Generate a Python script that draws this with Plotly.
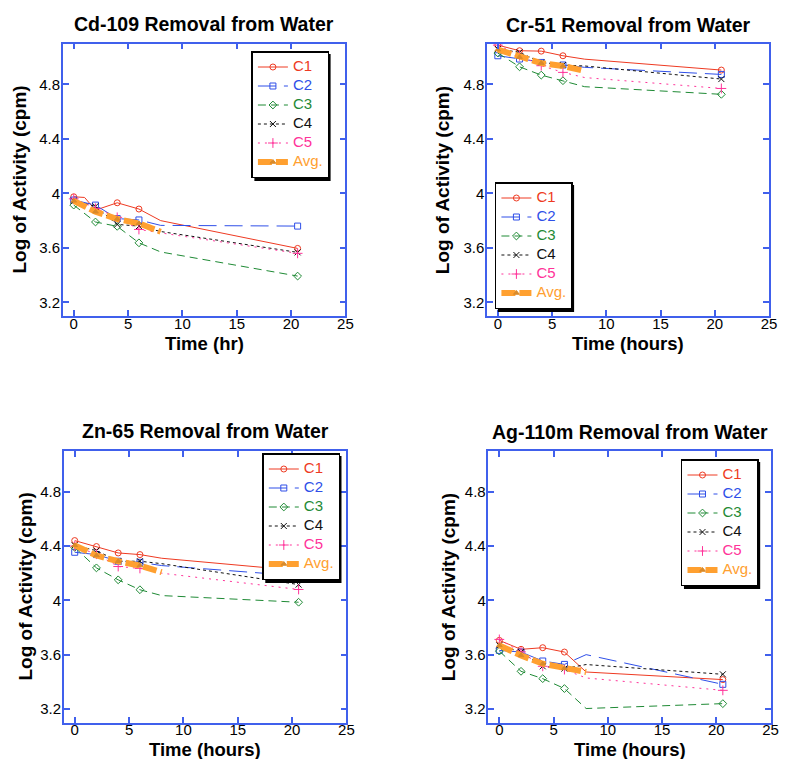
import plotly.graph_objects as go

W, H = 786, 759

# ---------------- data ----------------
TIMES = [0, 1, 2, 4, 6, 8, 20.6]
MARKED = [True, False, True, True, True, False, True]

PANEL_TITLES = ["Cd-109 Removal from Water", "Cr-51 Removal from Water",
                "Zn-65 Removal from Water", "Ag-110m Removal from Water"]
X_TITLES = ["Time (hr)", "Time (hours)", "Time (hours)", "Time (hours)"]
Y_TITLE = "Log of Activity (cpm)"
SERIES = ["C1", "C2", "C3", "C4", "C5", "Avg."]

cd_c1 = [3.975, 3.97, 3.877, 3.931, 3.885, 3.80, 3.596]
cd_c2 = [3.951, None, 3.914, 3.815, 3.805, 3.765, 3.760]
cd_c3 = [3.914, None, 3.790, 3.758, 3.637, 3.570, 3.393]
cd_c4 = [3.945, None, 3.905, 3.772, 3.760, 3.720, 3.567]
cd_c5 = [3.960, None, 3.890, 3.824, 3.735, 3.710, 3.560]
cd_avg = [3.945, None, 3.865, 3.812, 3.780, 3.718, None]

cr_c1 = [5.088, None, 5.047, 5.044, 5.010, 4.985, 4.905]
cr_c2 = [5.010, None, 4.986, 4.961, 4.942, 4.925, 4.873]
cr_c3 = [5.030, None, 4.929, 4.868, 4.827, 4.783, 4.727]
cr_c4 = [5.060, None, 5.035, 4.961, 4.942, 4.935, 4.839]
cr_c5 = [5.088, None, 5.010, 4.937, 4.888, 4.850, 4.770]
cr_avg = [5.055, None, 5.000, 4.956, 4.935, 4.898, None]

zn_c1 = [4.440, None, 4.396, 4.349, 4.337, 4.310, 4.219]
zn_c2 = [4.354, None, 4.337, 4.288, 4.280, 4.256, 4.180]
zn_c3 = [4.390, None, 4.239, 4.151, 4.078, 4.035, 3.986]
zn_c4 = [4.405, None, 4.366, 4.288, 4.288, 4.270, 4.116]
zn_c5 = [4.400, None, 4.340, 4.249, 4.235, 4.200, 4.080]
zn_avg = [4.405, None, 4.330, 4.288, 4.256, 4.207, None]

ag_c1 = [3.705, None, 3.639, 3.651, 3.619, 3.472, 3.416]
ag_c2 = [3.631, None, 3.619, 3.553, 3.528, 3.600, 3.381]
ag_c3 = [3.626, None, 3.477, 3.423, 3.350, 3.203, 3.239]
ag_c4 = [3.668, None, 3.619, 3.514, 3.497, 3.527, 3.455]
ag_c5 = [3.712, None, 3.620, 3.514, 3.490, 3.428, 3.337]
ag_avg = [3.668, None, 3.594, 3.533, 3.500, 3.472, None]

PANELS = [
    [cd_c1, cd_c2, cd_c3, cd_c4, cd_c5, cd_avg],
    [cr_c1, cr_c2, cr_c3, cr_c4, cr_c5, cr_avg],
    [zn_c1, zn_c2, zn_c3, zn_c4, zn_c5, zn_avg],
    [ag_c1, ag_c2, ag_c3, ag_c4, ag_c5, ag_avg],
]

X_TICKS = [0, 5, 10, 15, 20, 25]
Y_TICKS = [3.2, 3.6, 4, 4.4, 4.8]
Y_TICKTEXT = ["3.2", "3.6", "4", "4.4", "4.8"]

# ---------------- styles ----------------
COLORS = ["#ee3a22", "#2f4fe8", "#1f8a35", "#111111", "#ff3399", "#ffa030"]
DASHES = ["solid", "18px,8px", "8px,5px", "3px,3px", "2px,5px", "14px,4px"]
WIDTHS = [1, 1, 1, 1, 1, 6]
SYMBOLS = ["circle-open", "square-open", "diamond-open", "x-thin-open",
           "cross-thin-open", "triangle-up"]
MSIZES = [6, 6, 6, 6, 7, 5]
MCOLORS = ["#ee3a22", "#2f4fe8", "#1f8a35", "#111111", "#ff3399", "#d98a2a"]
AXIS_BLUE = "#4060ec"
FONT = "Liberation Sans, Arial, Helvetica, sans-serif"

# plot-area pixel boxes (left, top, right, bottom)
BOXES = [(63.5, 43.5, 349, 316), (492, 43.5, 777, 316),
         (64.5, 451, 350, 722.5), (493.5, 451, 778.5, 722.5)]
TITLE_Y = [24, 25, 431, 432]
XTITLE_Y = [343, 343, 749.5, 749.5]
YTITLE_X = [20, 447, 26, 453]
LEGEND_POS = [(254, 51), (500, 182), (265, 453), (688, 459)]
LEGEND_SIZE = (77, 127)

fig = go.Figure()
layout = dict(width=W, height=H, margin=dict(l=0, r=0, t=0, b=0),
              paper_bgcolor="white", plot_bgcolor="white",
              font=dict(family=FONT, color="black"), showlegend=True)
annotations = []
shapes = []

for p, data in enumerate(PANELS):
    sfx = "" if p == 0 else str(p + 1)
    lg = "legend" if p == 0 else "legend" + str(p + 1)
    for s, vals in enumerate(data):
        mcol = [MCOLORS[s] if m else "rgba(0,0,0,0)" for m in MARKED]
        fig.add_trace(go.Scatter(
            x=TIMES, y=vals, mode="lines+markers", connectgaps=True,
            name="<span style='color:%s;font-size:15px'>%s</span>" % (COLORS[s], SERIES[s]),
            line=dict(color=COLORS[s], width=WIDTHS[s], dash=DASHES[s]),
            marker=dict(symbol=SYMBOLS[s], size=MSIZES[s], color=mcol,
                        line=dict(width=1, color=mcol)),
            xaxis="x" + sfx, yaxis="y" + sfx, legend=lg, hoverinfo="skip"))

    l, t, r, b = BOXES[p]
    xd = [l / W, r / W]
    yd = [1 - b / H, 1 - t / H]
    common = dict(showline=True, linecolor=AXIS_BLUE, linewidth=1.5, mirror="ticks",
                  ticks="inside", ticklen=6, tickcolor=AXIS_BLUE, tickwidth=1.5,
                  showgrid=False, zeroline=False,
                  tickfont=dict(size=15, family=FONT, color="black"))
    layout["xaxis" + sfx] = dict(common, domain=xd, range=[-1, 25], tickvals=X_TICKS,
                                 anchor="y" + sfx, ticklabelstandoff=-7)
    layout["yaxis" + sfx] = dict(common, domain=yd, range=[3.1, 5.1], tickvals=Y_TICKS,
                                 ticktext=Y_TICKTEXT, anchor="x" + sfx,
                                 ticklabelstandoff=-2)
    annotations.append(dict(text="<b>%s</b>" % PANEL_TITLES[p], xref="paper", yref="paper",
                            x=(l + r) / 2 / W, y=1 - TITLE_Y[p] / H, xanchor="center",
                            yanchor="middle", showarrow=False,
                            font=dict(size=19.5, family=FONT, color="black")))
    annotations.append(dict(text="<b>%s</b>" % X_TITLES[p], xref="paper", yref="paper",
                            x=(l + r) / 2 / W, y=1 - XTITLE_Y[p] / H, xanchor="center",
                            yanchor="middle", showarrow=False,
                            font=dict(size=18.5, family=FONT, color="black")))
    annotations.append(dict(text="<b>%s</b>" % Y_TITLE, xref="paper", yref="paper",
                            x=YTITLE_X[p] / W, y=1 - (t + b) / 2 / H, xanchor="center",
                            yanchor="middle", showarrow=False, textangle=-90,
                            font=dict(size=19, family=FONT, color="black")))
    lx, ly = LEGEND_POS[p]
    lw, lh = LEGEND_SIZE
    shapes.append(dict(type="rect", xref="paper", yref="paper",
                       x0=(lx + 3) / W, x1=(lx + lw + 3) / W,
                       y0=1 - (ly + lh + 3) / H, y1=1 - (ly + 3) / H,
                       fillcolor="black", line=dict(width=0), layer="above"))
    layout[lg] = dict(x=lx / W, y=1 - ly / H, xanchor="left", yanchor="top",
                      bgcolor="white", bordercolor="black", borderwidth=1.5,
                      font=dict(size=10.5, family=FONT), tracegroupgap=0,
                      itemwidth=30, itemclick=False)

layout["annotations"] = annotations
layout["shapes"] = shapes
fig.update_layout(**layout)
fig.write_html("out.html")
